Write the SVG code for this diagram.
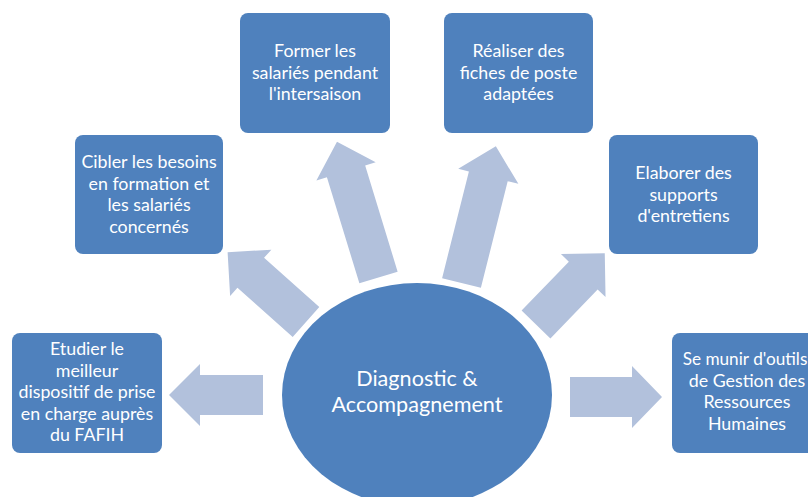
<svg xmlns="http://www.w3.org/2000/svg" width="808" height="497" viewBox="0 0 808 497">
<style>
.box{fill:#4F81BD;}
.arrow{fill:#B2C1DC;}
.t{font-family:Lato,"Liberation Sans",sans-serif;font-size:17.8px;fill:#FFFFFF;text-anchor:middle;}
.c{font-family:Lato,"Liberation Sans",sans-serif;font-size:21.6px;fill:#FFFFFF;text-anchor:middle;}
</style>
<rect width="808" height="497" fill="#FFFFFF"/>
<g id="connectors">
<path class="arrow" transform="translate(263,395) rotate(180)" d="M0,-20 H63 V-31 L94,0 L63,31 V20 H0 Z"/>
<path class="arrow" transform="translate(570,397) rotate(0)" d="M0,-20 H62 V-31 L92,0 L62,31 V20 H0 Z"/>
<path class="arrow" transform="translate(306,322) rotate(-138.3)" d="M0,-20 H74 V-31 L105,0 L74,31 V20 H0 Z"/>
<path class="arrow" transform="translate(378.5,277.5) rotate(-107)" d="M0,-20 H111 V-31 L142,0 L111,31 V20 H0 Z"/>
<path class="arrow" transform="translate(461.5,283) rotate(-75.9)" d="M0,-20 H110 V-31 L141,0 L110,31 V20 H0 Z"/>
<path class="arrow" transform="translate(536,324.5) rotate(-46)" d="M0,-20 H68 V-31 L99,0 L68,31 V20 H0 Z"/>
</g>
<g id="center">
<ellipse class="box" cx="417" cy="395" rx="135" ry="112"/>
<text class="c" x="417" y="386">Diagnostic &amp;</text>
<text class="c" x="417" y="412">Accompagnement</text>
</g>
<g id="node-etudier">
<rect class="box" x="12" y="333" width="150" height="120" rx="8"/>
<text class="t" x="87" y="355">Etudier le</text>
<text class="t" x="87" y="376.5">meilleur</text>
<text class="t" x="87" y="398">dispositif de prise</text>
<text class="t" x="87" y="419.5">en charge auprès</text>
<text class="t" x="87" y="441">du FAFIH</text>
</g>
<g id="node-cibler">
<rect class="box" x="75" y="135" width="148" height="119" rx="8"/>
<text class="t" x="149" y="168">Cibler les besoins</text>
<text class="t" x="149" y="189.5">en formation et</text>
<text class="t" x="149" y="211">les salariés</text>
<text class="t" x="149" y="232.5">concernés</text>
</g>
<g id="node-former">
<rect class="box" x="240" y="13" width="150" height="120" rx="8"/>
<text class="t" x="315" y="57">Former les</text>
<text class="t" x="315" y="78.5">salariés pendant</text>
<text class="t" x="315" y="100">l'intersaison</text>
</g>
<g id="node-realiser">
<rect class="box" x="444" y="13" width="149" height="120" rx="8"/>
<text class="t" x="518.5" y="57">Réaliser des</text>
<text class="t" x="518.5" y="78.5">fiches de poste</text>
<text class="t" x="518.5" y="100">adaptées</text>
</g>
<g id="node-elaborer">
<rect class="box" x="609" y="135" width="149" height="119" rx="8"/>
<text class="t" x="683.5" y="179">Elaborer des</text>
<text class="t" x="683.5" y="200.5">supports</text>
<text class="t" x="683.5" y="222">d'entretiens</text>
</g>
<g id="node-munir">
<rect class="box" x="672" y="333" width="150" height="120" rx="8"/>
<text class="t" x="745" y="365" style="font-size:17.2px">Se munir d'outils</text>
<text class="t" x="747" y="386.5">de Gestion des</text>
<text class="t" x="747" y="408">Ressources</text>
<text class="t" x="747" y="429.5">Humaines</text>
</g>
</svg>
